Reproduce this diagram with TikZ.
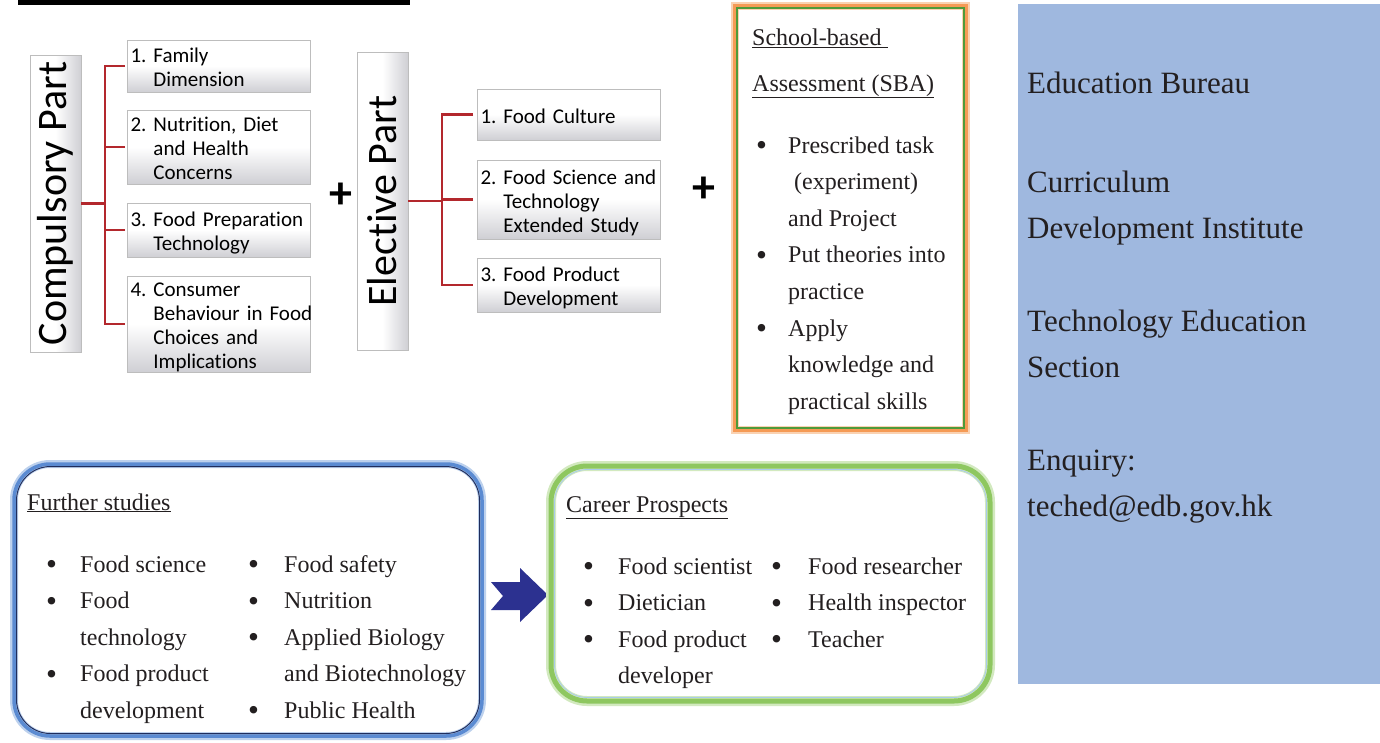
\documentclass[tikz,border=0pt]{standalone}
\usepackage{graphicx}
\usepackage{fontspec}
\setmainfont{Liberation Serif}
\newfontfamily\calib[Ligatures=NoCommon]{Carlito}
\usetikzlibrary{calc}
\definecolor{redc}{HTML}{B3282D}
\definecolor{boxgray}{HTML}{BDBDBD}
\definecolor{shadegray}{HTML}{CFCFD4}
\definecolor{orangec}{HTML}{F59A55}
\definecolor{sbagreen}{HTML}{4E9A3A}
\definecolor{fsblue}{HTML}{5B8BD2}
\definecolor{fsnavy}{HTML}{1F2D5C}
\definecolor{crgreen}{HTML}{8EC760}
\definecolor{crinner}{HTML}{A9CBEA}
\definecolor{arrowc}{HTML}{2C3190}
\definecolor{panelc}{HTML}{9FB8DF}
\definecolor{textc}{HTML}{231F20}
\newcommand\mybul[1]{\makebox[#1][l]{\raisebox{-2.5pt}{\scalebox{1.3}{\textbullet}}}}
\newcommand\mycell[2]{\makebox[#1][l]{#2}}
\newcommand\itemtext[1]{\raisebox{-4pt}[\height][\depth]{\begin{tabular}{@{}l@{\ }l@{}}#1\end{tabular}}}
\begin{document}
\begin{tikzpicture}[x=1pt,y=-1pt,
  itembox/.style={draw=boxgray, line width=0.8pt, top color=white, bottom color=shadegray, middle color=white,
    anchor=north west, minimum width=183pt, inner xsep=3.5pt, inner ysep=0pt, outer sep=0pt,
    text width=176pt, align=left, font=\calib\fontsize{21}{24}\selectfont},
  vbox/.style={draw=boxgray, line width=0.8pt, left color=white, right color=shadegray, middle color=white,
    minimum width=51pt, inner sep=0pt, outer sep=0pt, font=\calib\fontsize{42}{42}\selectfont},
  redln/.style={draw=redc, line width=2.4pt},
  plussign/.style={font=\calib\bfseries\fontsize{46}{46}\selectfont, inner sep=0pt},
  txt/.style={inner sep=0pt, anchor=base west, text=textc, font=\fontsize{24}{36.6}\selectfont},
  paneltxt/.style={inner sep=0pt, anchor=base west, text=textc, font=\fontsize{31}{45.5}\selectfont}
]
\useasboundingbox (0,0) rectangle (1380,742);
\fill[white] (0,0) rectangle (1380,742);

% top bar (cut-off title underline)
\fill[black] (18,0) rectangle (410,4.5);

% compulsory part
\node[vbox, minimum height=297pt] (cp) at (55.5,203.5) {\rotatebox{90}{Compulsory Part}};
\node[itembox, minimum height=52pt] (c1) at (127,40) {\itemtext{1. & Family\\ & Dimension}};
\node[itembox, minimum height=74pt] (c2) at (127,110) {\itemtext{2. & Nutrition, Diet\\ & and Health\\ & Concerns}};
\node[itembox, minimum height=54pt] (c3) at (127,203) {\itemtext{3. & Food Preparation\\ & Technology}};
\node[itembox, minimum height=94pt] (c4) at (127,276) {\itemtext{4. & Consumer\\ & Behaviour in Food\\ & Choices and\\ & Implications}};

\coordinate (cj) at ($(cp.east)+(24,0)$);
\draw[redln] (cp.east) -- (cj);
\draw[redln] ([xshift=-2pt]c1.west) -- (c1.west -| cj) -- (c4.west -| cj) -- ([xshift=-2pt]c4.west);
\draw[redln] ([xshift=-2pt]c2.west) -- (c2.west -| cj);
\draw[redln] ([xshift=-2pt]c3.west) -- (c3.west -| cj);

\node[plussign] (p1) at (341,196) {+};

% elective part
\node[vbox, minimum height=298pt] (ep) at (382.5,201) {\rotatebox{90}{Elective Part}};
\node[itembox, minimum height=51pt] (e1) at (477,89) {\itemtext{1. & Food Culture}};
\node[itembox, minimum height=79pt] (e2) at (477,160) {\itemtext{2. & Food Science and\\ & Technology\\ & Extended Study}};
\node[itembox, minimum height=54pt] (e3) at (477,258) {\itemtext{3. & Food Product\\ & Development}};

\coordinate (ej) at ($(ep.east)+(34,0)$);
\draw[redln] (ep.east) -- (ej);
\draw[redln] ([xshift=-4pt]e1.west) -- (e1.west -| ej) -- (e3.west -| ej) -- ([xshift=-4pt]e3.west);
\draw[redln] ([xshift=-4pt]e2.west) -- (e2.west -| ej);

\node[plussign] (p2) at (704,190) {+};

% SBA box
\node[draw=orangec, line width=4.5pt, preaction={draw=orangec!45, line width=7.5pt},
  minimum width=231pt, minimum height=424pt, anchor=north west, inner sep=0pt, outer sep=0pt] (sba) at (735,6) {};
\draw[sbagreen, line width=1.3pt] ($(sba.north west)+(2,2)$) rectangle ($(sba.south east)+(-2,-2)$);
\node[txt, font=\fontsize{24}{45.5}\selectfont] (sbat) at (752,45.5)
  {\begin{tabular}[t]{@{}l@{}}\underline{School-based\ }\\\underline{Assessment (SBA)}\end{tabular}};
\node[txt] (sbal) at (756,153) {\begin{tabular}[t]{@{}l@{}l@{}}
\mybul{32pt} & Prescribed task\\
 & \ (experiment)\\
 & and Project\\
\mybul{32pt} & Put theories into\\
 & practice\\
\mybul{32pt} & Apply\\
 & knowledge and\\
 & practical skills
\end{tabular}};

% further studies box
\node[draw=fsblue, line width=3.5pt, preaction={draw=fsblue!40, line width=8pt}, rounded corners=36pt,
  minimum width=468pt, minimum height=272pt, anchor=north west, inner sep=0pt, outer sep=0pt] (fs) at (14,464) {};
\draw[fsnavy, line width=1pt, rounded corners=34pt] ($(fs.north west)+(2.5,2.5)$) rectangle ($(fs.south east)+(-2.5,-2.5)$);
\node[txt] (fst) at (27,510) {\underline{Further studies}};
\node[txt] (fsl) at (46,572) {\begin{tabular}[t]{@{}l@{}l@{}l@{}l@{}}
\mybul{34pt} & \mycell{168pt}{Food science} & \mybul{36pt} & Food safety\\
\mybul{34pt} & Food & \mybul{36pt} & Nutrition\\
 & technology & \mybul{36pt} & Applied Biology\\
\mybul{34pt} & Food product & & and Biotechnology\\
 & development & \mybul{36pt} & Public Health
\end{tabular}};

% block arrow
\fill[arrowc] (491,582) -- (520,582) -- (520,568) -- (548,595) -- (520,622) -- (520,610) -- (491,610) -- (503,596) -- cycle;

% career prospects box
\node[draw=crgreen, line width=5pt, preaction={draw=crgreen!40, line width=10pt}, rounded corners=36pt,
  minimum width=439pt, minimum height=235pt, anchor=north west, inner sep=0pt, outer sep=0pt] (cr) at (551,466) {};
\draw[crinner, line width=0.8pt, rounded corners=33pt] ($(cr.north west)+(3.5,3.5)$) rectangle ($(cr.south east)+(-3.5,-3.5)$);
\node[txt] (crt) at (566,512) {\underline{Career Prospects}};
\node[txt] (crl) at (583,574) {\begin{tabular}[t]{@{}l@{}l@{}l@{}l@{}}
\mybul{35pt} & \mycell{153pt}{Food scientist} & \mybul{37pt} & Food researcher\\
\mybul{35pt} & Dietician & \mybul{37pt} & Health inspector\\
\mybul{35pt} & Food product & \mybul{37pt} & Teacher\\
 & developer & &
\end{tabular}};

% right panel
\node[fill=panelc, minimum width=362pt, minimum height=680pt, anchor=north west, inner sep=0pt, outer sep=0pt] (panel) at (1018,4) {};
\node[paneltxt] (eb) at (1027,93.3) {Education Bureau};
\node[paneltxt] (cdi) at (1027,192.7) {\begin{tabular}[t]{@{}l@{}}Curriculum\\Development Institute\end{tabular}};
\node[paneltxt] (tes) at (1027,331.7) {\begin{tabular}[t]{@{}l@{}}Technology Education\\Section\end{tabular}};
\node[paneltxt, font=\fontsize{31}{46.7}\selectfont] (enq) at (1027,470) {\begin{tabular}[t]{@{}l@{}}Enquiry:\\teched@edb.gov.hk\end{tabular}};
\end{tikzpicture}
\end{document}
